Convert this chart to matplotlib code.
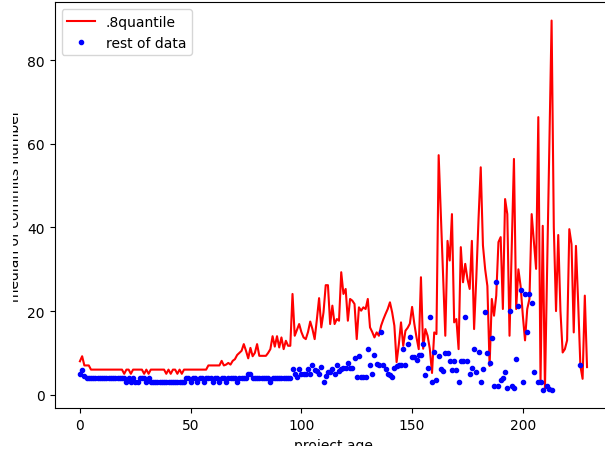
import matplotlib
matplotlib.use("Agg")
import matplotlib.pyplot as plt
from matplotlib.patches import Rectangle

# .8 quantile per project age (0..229)
red_age = list(range(0, 230))
red_val = [
    8, 9.2, 7, 7, 7, 6, 6, 6, 6, 6,
    6, 6, 6, 6, 6, 6, 6, 6, 6, 6,
    5, 6, 6, 5, 6, 6, 6, 6, 6, 5,
    6, 5, 6, 6, 6, 6, 6, 6, 6, 5,
    6, 5, 6, 6, 5, 6, 5, 6, 6, 6,
    6, 6, 6, 6, 6, 6, 6, 6, 7, 7,
    7, 7, 7, 7, 8.1, 7, 7.2, 7.6, 7.2, 8.1,
    8.5, 9.5, 10, 10.5, 12.1, 10.5, 8.7, 11.2, 9.2, 10,
    12.1, 9.3, 9.3, 9.3, 9.3, 10, 10.9, 14, 11.5, 14,
    11.3, 13.7, 10.9, 12.9, 11.7, 11.7, 24.1, 14.1, 15.5, 16.9,
    15, 13.7, 13.3, 15, 17.5, 15.7, 13.3, 18, 23.1, 16.1,
    19.7, 26.2, 26.2, 16.9, 21.3, 16.9, 18.1, 17.7, 29.3, 24.1,
    25.3, 17.7, 22.9, 22.5, 21.7, 13.3, 20.9, 20.1, 20.9, 20.5,
    22.9, 16.1, 15, 13.7, 14.9, 14.1, 16.5, 18, 19.3, 20.5,
    22.1, 19.7, 16.5, 7.8, 12, 17.3, 11.7, 15.3, 16, 17,
    21, 17, 13.7, 10.9, 28.1, 11, 15.7, 14.1, 11, 5.2,
    14.9, 14.5, 57.3, 43, 28, 14.1, 36.8, 32.1, 43.2, 17.3,
    18.1, 10.9, 35.3, 26.9, 31.3, 27.7, 25.3, 36.8, 15.7, 28,
    42, 54.4, 35.7, 30, 26, 6.9, 22.9, 18.9, 23.7, 36.5,
    37.7, 20.5, 46.8, 43.2, 14.1, 35, 56.4, 20.5, 30, 26,
    19, 13, 20.5, 22.9, 43.2, 36.5, 30.1, 66.4, 3, 40.4,
    1.3, 30, 60, 89.5, 40, 20, 38.2, 20, 10.1, 10.9,
    13, 39.6, 36, 14.9, 35.6, 22, 6.9, 3.8, 23.7, 6.6,
]

# rest of data
blue_age = list(range(0, 206)) + [207, 208, 209, 211, 212, 213, 226]
blue_val = [
    5, 6, 4.5, 4, 4, 4, 4, 4, 4, 4,
    4, 4, 4, 4, 4, 4, 4, 4, 4, 4,
    4, 3, 4, 3, 4, 3, 3, 4, 4, 4,
    3, 4, 3, 3, 3, 3, 3, 3, 3, 3,
    3, 3, 3, 3, 3, 3, 3, 3, 4, 4,
    3, 4, 4, 3, 4, 4, 3, 4, 4, 4,
    3, 4, 4, 3, 4, 4, 3, 4, 4, 4,
    4, 3, 4, 4, 4, 4, 5, 5, 4, 4,
    4, 4, 4, 4, 4, 4, 3, 4, 4, 4,
    4, 4, 4, 4, 4, 4, 6.1, 4.9, 4.2, 6.1,
    5, 5, 5, 6.1, 5, 7, 6, 5.6, 5, 6.7,
    3.1, 4.4, 5.4, 5.4, 6.1, 5, 7, 5.6, 6.1, 6.5,
    6.3, 7.6, 6.3, 6.5, 8.7, 4.2, 9.2, 4.2, 4.2, 4.2,
    10.9, 7, 5, 9.5, 7.3, 7, 15, 7, 6.1, 5,
    4.8, 4.2, 6.3, 6.8, 7, 7, 10.9, 7.1, 12.1, 13.9,
    9, 9, 8.2, 9.4, 9.5, 12.1, 4.6, 6.5, 18.5, 3.1,
    10.1, 3.6, 9.3, 6.2, 5.6, 10, 10, 8, 6, 8,
    6, 3.1, 8, 8, 18.5, 8, 5, 6.5, 10.9, 5.4,
    10.1, 3.1, 6.2, 19.9, 10, 7.6, 13.5, 2, 27, 2,
    3.4, 4, 5.4, 1.5, 20, 2, 1.5, 8.6, 21.2, 25,
    3.1, 24, 15, 24, 22, 5.4,
    3.1, 3.1, 1.2, 2, 1.3, 1.2, 7,
]
assert len(red_age) == len(red_val), (len(red_age), len(red_val))
assert len(blue_age) == len(blue_val), (len(blue_age), len(blue_val))

W, H = 605, 452
fig = plt.figure(figsize=(W / 100, H / 100), dpi=100)
ax = fig.add_axes([0.0902, 0.0945, 0.922, 0.8985])
ax.plot(red_age, red_val, 'r', label='.8quantile')
ax.plot(blue_age, blue_val, 'b.', label='rest of data')
ax.set_xlim(-11.45, 240.45)
ax.set_ylim(-3.25, 93.9)
ax.set_xlabel('project age')
ax.set_ylabel('median of commits number')
ax.legend(loc='upper left')

# the reference is a cropped screenshot: blank margin on the left and bottom
fig.patches.append(Rectangle((0, 0), 13 / W, 1, transform=fig.transFigure,
                             facecolor='white', edgecolor='none', zorder=10))
fig.patches.append(Rectangle((0, 0), 1, 5 / H, transform=fig.transFigure,
                             facecolor='white', edgecolor='none', zorder=10))
fig.savefig('out.png', dpi=100)
